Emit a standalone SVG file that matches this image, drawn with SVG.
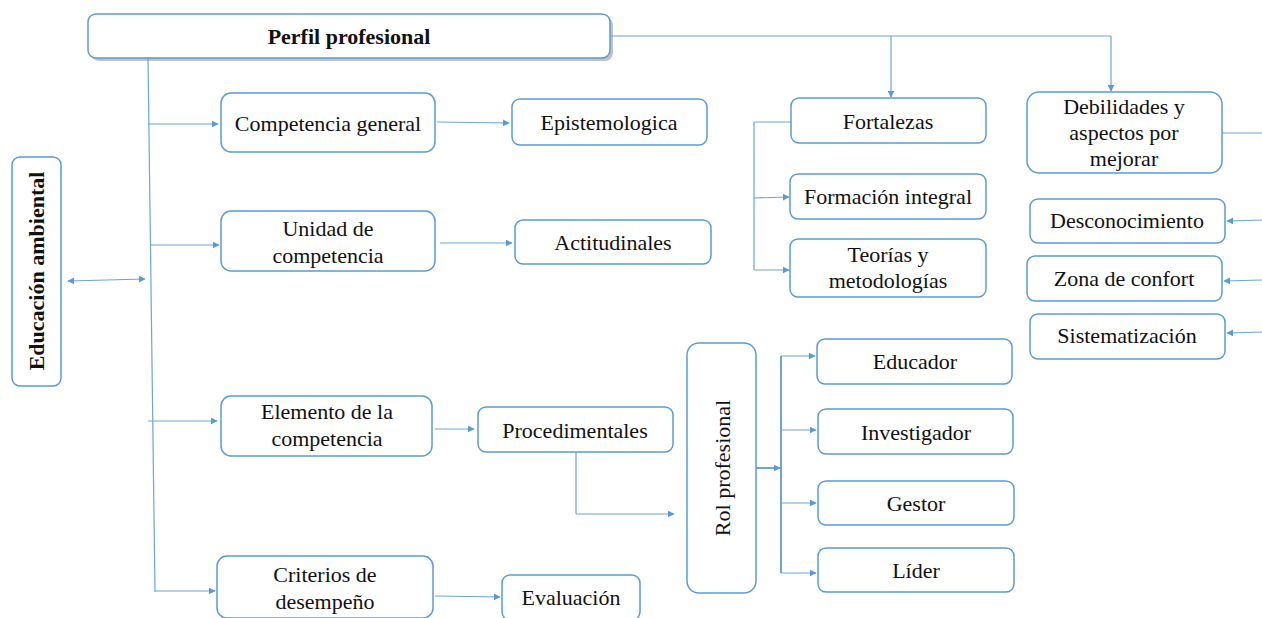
<svg xmlns="http://www.w3.org/2000/svg" width="1262" height="618" viewBox="0 0 1262 618">
<style>
.box{fill:#fff;stroke:#5B9BD5;stroke-width:1.5}
.t{font-family:'Liberation Serif','DejaVu Serif','Noto Serif',serif;font-size:22px;fill:#111;text-anchor:middle}
.b{font-weight:bold}
.c{fill:none;stroke:#6FA3DA;stroke-width:1.2}
.ca{fill:none;stroke:#6FA3DA;stroke-width:1.2;marker-end:url(#ah)}
</style>
<defs>
<marker id="ah" viewBox="0 0 10 10" refX="9" refY="5" markerWidth="7" markerHeight="7" markerUnits="userSpaceOnUse" orient="auto"><path d="M0,0 L10,5 L0,10 z" fill="#5B9BD5"/></marker>
<marker id="as" viewBox="0 0 10 10" refX="1" refY="5" markerWidth="7" markerHeight="7" markerUnits="userSpaceOnUse" orient="auto"><path d="M10,0 L0,5 L10,10 z" fill="#5B9BD5"/></marker>
</defs>
<rect width="1262" height="618" fill="#fff"/>
<g id="connectors">
<path class="c" d="M610,36 H1111"/>
<path class="ca" d="M891,36 V97"/>
<path class="ca" d="M1111,36 V91"/>
<path class="c" d="M148,58 L155,592"/>
<path class="ca" d="M148,124 H218"/>
<path class="ca" d="M150,245 H219"/>
<path class="ca" d="M148,421 H217"/>
<path class="ca" d="M155,591 H215"/>
<path class="ca" d="M68,281 L145,279" marker-start="url(#as)"/>
<path class="ca" d="M437,122 L509,123"/>
<path class="ca" d="M440,243 H512"/>
<path class="ca" d="M435,429 H474"/>
<path class="c" d="M576,452 V514"/>
<path class="ca" d="M576,514 H674"/>
<path class="ca" d="M435,596 L500,597"/>
<path class="ca" d="M756,468 H780" style="stroke-width:2"/>
<path class="c" d="M781,356 V573" style="stroke-width:2"/>
<path class="ca" d="M781,356 H815"/>
<path class="ca" d="M781,430 H816"/>
<path class="ca" d="M781,503 H816"/>
<path class="ca" d="M781,573 H816"/>
<path class="c" d="M791,122 H754 V270"/>
<path class="ca" d="M754,198 L789,197"/>
<path class="ca" d="M754,270 H789"/>
<path class="c" d="M1222,133 H1262"/>
<path class="ca" d="M1262,220 L1227,221"/>
<path class="ca" d="M1262,280 L1224,281"/>
<path class="ca" d="M1262,332 L1227,333"/>
</g>
<g id="perfil">
<rect x="91" y="17" width="522" height="44" rx="8" fill="#999" opacity="0.6"/>
<rect class="box" x="88" y="14" width="522" height="44" rx="8"/>
<text class="t b" x="349" y="44">Perfil profesional</text>
</g>
<g id="educacion">
<rect class="box" x="12" y="157" width="49" height="229" rx="8"/>
<text class="t b" transform="translate(44,271) rotate(-90)">Educación ambiental</text>
</g>
<g id="competencia-general">
<rect class="box" x="221" y="93" width="214" height="59" rx="10"/>
<text class="t" x="328" y="131">Competencia general</text>
</g>
<g id="unidad">
<rect class="box" x="221" y="211" width="214" height="60" rx="10"/>
<text class="t" x="328" y="236">Unidad de</text>
<text class="t" x="328" y="263">competencia</text>
</g>
<g id="elemento">
<rect class="box" x="221" y="396" width="211" height="60" rx="10"/>
<text class="t" x="327" y="419">Elemento de la</text>
<text class="t" x="327" y="446">competencia</text>
</g>
<g id="criterios">
<rect class="box" x="217" y="556" width="216" height="62" rx="10"/>
<text class="t" x="325" y="582">Criterios de</text>
<text class="t" x="325" y="609">desempeño</text>
</g>
<g id="epistemologica">
<rect class="box" x="512" y="99" width="195" height="46" rx="8"/>
<text class="t" x="609" y="130">Epistemologica</text>
</g>
<g id="actitudinales">
<rect class="box" x="515" y="220" width="196" height="44" rx="8"/>
<text class="t" x="613" y="250">Actitudinales</text>
</g>
<g id="procedimentales">
<rect class="box" x="478" y="407" width="195" height="45" rx="8"/>
<text class="t" x="575" y="438">Procedimentales</text>
</g>
<g id="evaluacion">
<rect class="box" x="502" y="575" width="138" height="45" rx="8"/>
<text class="t" x="571" y="605">Evaluación</text>
</g>
<g id="rol">
<rect class="box" x="687" y="343" width="69" height="250" rx="12"/>
<text class="t" transform="translate(730,468) rotate(-90)">Rol profesional</text>
</g>
<g id="educador">
<rect class="box" x="817" y="339" width="195" height="45" rx="8"/>
<text class="t" x="915" y="369">Educador</text>
</g>
<g id="investigador">
<rect class="box" x="818" y="409" width="195" height="45" rx="8"/>
<text class="t" x="916" y="440">Investigador</text>
</g>
<g id="gestor">
<rect class="box" x="818" y="481" width="196" height="44" rx="8"/>
<text class="t" x="916" y="511">Gestor</text>
</g>
<g id="lider">
<rect class="box" x="818" y="548" width="196" height="44" rx="8"/>
<text class="t" x="916" y="578">Líder</text>
</g>
<g id="fortalezas">
<rect class="box" x="791" y="98" width="195" height="45" rx="8"/>
<text class="t" x="888" y="129">Fortalezas</text>
</g>
<g id="formacion">
<rect class="box" x="790" y="174" width="196" height="45" rx="8"/>
<text class="t" x="888" y="204">Formación integral</text>
</g>
<g id="teorias">
<rect class="box" x="790" y="239" width="196" height="58" rx="8"/>
<text class="t" x="888" y="262">Teorías y</text>
<text class="t" x="888" y="288">metodologías</text>
</g>
<g id="debilidades">
<rect class="box" x="1027" y="92" width="195" height="81" rx="12"/>
<text class="t" x="1124" y="114">Debilidades y</text>
<text class="t" x="1124" y="140">aspectos por</text>
<text class="t" x="1124" y="166">mejorar</text>
</g>
<g id="desconocimiento">
<rect class="box" x="1030" y="199" width="195" height="44" rx="8"/>
<text class="t" x="1127" y="228">Desconocimiento</text>
</g>
<g id="zona">
<rect class="box" x="1027" y="256" width="195" height="45" rx="8"/>
<text class="t" x="1124" y="286">Zona de confort</text>
</g>
<g id="sistematizacion">
<rect class="box" x="1030" y="314" width="195" height="45" rx="8"/>
<text class="t" x="1127" y="343">Sistematización</text>
</g>
</svg>
